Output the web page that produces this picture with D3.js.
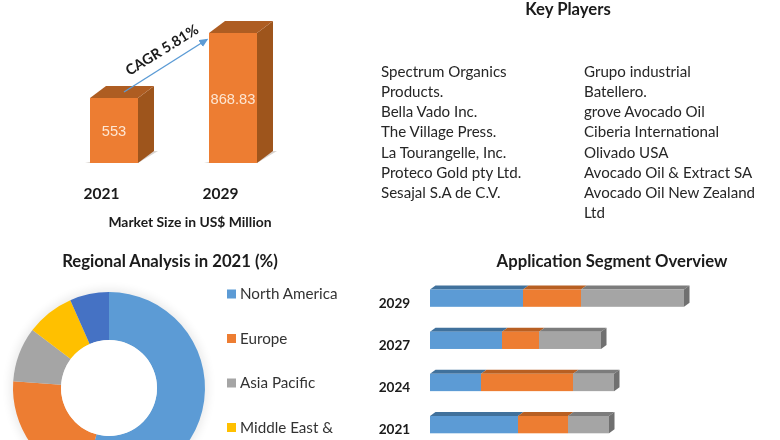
<!DOCTYPE html>
<html><head><meta charset="utf-8">
<script src="https://cdn.jsdelivr.net/npm/d3@7/dist/d3.min.js"></script>
<style>
html,body{margin:0;padding:0;background:#fff;overflow:hidden}
svg{display:block}
text{font-family:Lato,"Open Sans",sans-serif;fill:#1a1a1a}
</style></head><body>
<svg id="c" width="780" height="440"></svg>
<script>
const marketYears = ["2021","2029"];
const marketValues = [553,868.83];
const marketLabels = ["553","868.83"];
const players1 = ["Spectrum Organics","Products.","Bella Vado Inc.","The Village Press.","La Tourangelle, Inc.","Proteco Gold pty Ltd.","Sesajal S.A de C.V."];
const players2 = ["Grupo industrial","Batellero.","grove Avocado Oil","Ciberia International","Olivado USA","Avocado Oil & Extract SA","Avocado Oil New Zealand","Ltd"];
const regions = ["North America","Europe","Asia Pacific","Middle East &","South America"];
const regionShares = [54.2,21.9,9.2,8.1,6.6];
const regionColors = ["#5b9bd5","#ed7d31","#a5a5a5","#ffc000","#4472c4"];
const segmentYears = ["2029","2027","2024","2021"];
const segmentA = [93,72,51,88];
const segmentB = [58,37,92,50];
const segmentC = [103,62,41,41];
const segmentColors = ["#5b9bd5","#ed7d31","#a5a5a5"];
const segmentTops = ["#41719c","#b85f20","#7c7c7c"];

const svg = d3.select("#c");
const defs = svg.append("defs");
const sh = defs.append("filter").attr("id","soft").attr("x","-20%").attr("y","-20%").attr("width","140%").attr("height","140%");
sh.append("feGaussianBlur").attr("stdDeviation",5);
const tb = defs.append("filter").attr("id","tb").attr("filterUnits","userSpaceOnUse")
  .attr("x",0).attr("y",0).attr("width",780).attr("height",440);
tb.append("feGaussianBlur").attr("stdDeviation",0.25);

const root = svg.append("g").attr("filter","url(#tb)");
const label = (t,x,y,o={}) => root.append("text").text(t).attr("x",x).attr("y",y)
  .attr("text-anchor",o.anchor||"middle").attr("font-size",o.size||15)
  .attr("font-weight",o.weight||700).style("fill",o.fill||"#1a1a1a")
  .style("font-family",o.family||null);

/* ---- market size 3D columns ---- */
const mx = d3.scalePoint().domain(marketYears).range([114,233]);
const my = d3.scaleLinear().domain([237.17,868.83]).range([163,33]);
const bw = 48, ddx = 16, ddy = 12;
const market = marketYears.map((y,i)=>({y,v:marketValues[i],l:marketLabels[i]}));
const pathOf = pts => "M"+pts.map(p=>p.join(",")).join("L")+"Z";
const mg = root.append("g");
mg.selectAll("path.floor").data(market).join("path").attr("class","floor")
  .attr("d",d=>{const x=mx(d.y)-bw/2,b=my.range()[0];return pathOf([[x-5,b],[x+bw,b],[x+bw+ddx+4,b-12],[x+bw,b-12]]);})
  .attr("fill","#d9d4cf");
mg.selectAll("path.side").data(market).join("path").attr("class","side")
  .attr("d",d=>{const x=mx(d.y)+bw/2,t=my(d.v),b=my.range()[0];return pathOf([[x,t],[x+ddx,t-ddy],[x+ddx,b-ddy],[x,b]]);})
  .attr("fill","#9e551f");
mg.selectAll("path.top").data(market).join("path").attr("class","top")
  .attr("d",d=>{const x=mx(d.y)-bw/2,t=my(d.v);return pathOf([[x,t],[x+ddx,t-ddy],[x+bw+ddx,t-ddy],[x+bw,t]]);})
  .attr("fill","#ae5d23");
mg.selectAll("rect.front").data(market).join("rect").attr("class","front")
  .attr("x",d=>mx(d.y)-bw/2).attr("y",d=>my(d.v)).attr("width",bw)
  .attr("height",d=>my.range()[0]-my(d.v)).attr("fill","#ed7d31");
market.forEach(d=>{
  label(d.l,mx(d.y),(my(d.v)+my.range()[0])/2+5.5,{size:14.7,weight:400,fill:"#fde6d3",family:'"Liberation Sans",Arial,sans-serif'});
});
label("2021",101.5,199,{size:15.5});
label("2029",220.5,199,{size:15.5});
label("Market Size in US$ Million",190,227,{size:13.9});

/* arrow */
const head = defs.append("marker").attr("id","ah").attr("markerWidth",9).attr("markerHeight",9)
  .attr("refX",7.5).attr("refY",4).attr("orient","auto").attr("markerUnits","userSpaceOnUse");
head.append("path").attr("d","M0,0L9,4L0,8Z").attr("fill","#5b9bd5");
root.append("line").attr("x1",124).attr("y1",92).attr("x2",207).attr("y2",39.5)
  .attr("stroke","#5b9bd5").attr("stroke-width",1.4).attr("marker-end","url(#ah)");
root.append("text").text("CAGR 5.81%")
  .attr("transform","translate(164.6,54.2) rotate(-32)").attr("text-anchor","middle")
  .attr("font-size",14.4).attr("font-weight",700);

/* ---- key players ---- */
label("Key Players",568,14.5,{size:16.7});
const listY = d3.scalePoint().domain(d3.range(8)).range([77,218]);
[[players1,381],[players2,584]].forEach(([arr,x])=>{
  root.append("g").selectAll("text").data(arr).join("text").text(d=>d)
    .attr("x",x).attr("y",(d,i)=>listY(i)).attr("font-size",15.1).style("fill","#262626");
});

/* ---- regional donut ---- */
label("Regional Analysis in 2021 (%)",170,266.5,{size:16.7});
const dg = root.append("g").attr("transform","translate(109,388)");
dg.append("circle").attr("r",99).attr("fill","#000").attr("opacity",0.08).attr("filter","url(#soft)");
const arc = d3.arc().innerRadius(48).outerRadius(96);
const pie = d3.pie().sort(null).value(d=>d);
dg.selectAll("path").data(pie(regionShares)).join("path")
  .attr("d",arc).attr("fill",(d,i)=>regionColors[i]);
dg.append("circle").attr("r",48).attr("fill","#fff");
const ly = d3.scalePoint().domain(regions.slice(0,4)).range([294,427.5]);
const lg = root.append("g").selectAll("g").data(regions.slice(0,4)).join("g")
  .attr("transform",d=>`translate(227,${ly(d)})`);
lg.append("rect").attr("x",0).attr("y",-4.5).attr("width",9).attr("height",9)
  .attr("fill",d=>regionColors[regions.indexOf(d)]);
lg.append("text").text(d=>d).attr("x",13).attr("y",5).attr("font-size",15.2).style("fill","#333");

/* ---- application segment ---- */
label("Application Segment Overview",612,267,{size:16.7});
const sy = d3.scalePoint().domain(segmentYears).range([289.5,416]);
const sx = d3.scaleLinear().domain([0,100]).range([430,530]);
const sh2 = 17.3, sdx = 5.5, sdy = 4;
const rows = segmentYears.map((y,i)=>({y,vals:[segmentA[i],segmentB[i],segmentC[i]]}));
rows.forEach(r=>{
  const g = root.append("g");
  const top = sy(r.y);
  let cum = 0;
  const segs = r.vals.map((v,i)=>{const s={i,a:cum,b:cum+v};cum+=v;return s;});
  g.selectAll("path.t").data(segs).join("path").attr("class","t")
    .attr("d",s=>pathOf([[sx(s.a),top],[sx(s.a)+sdx,top-sdy],[sx(s.b)+sdx,top-sdy],[sx(s.b),top]]))
    .attr("fill",s=>segmentTops[s.i]);
  g.append("path").attr("d",pathOf([[sx(cum),top],[sx(cum)+sdx,top-sdy],[sx(cum)+sdx,top+sh2-sdy],[sx(cum),top+sh2]]))
    .attr("fill","#6f6f6f");
  g.selectAll("rect").data(segs).join("rect")
    .attr("x",s=>sx(s.a)).attr("y",top).attr("width",s=>sx(s.b)-sx(s.a)).attr("height",sh2)
    .attr("fill",s=>segmentColors[s.i]);
  label(r.y,394.5,top+18,{size:13.6});
});
</script>
</body></html>
